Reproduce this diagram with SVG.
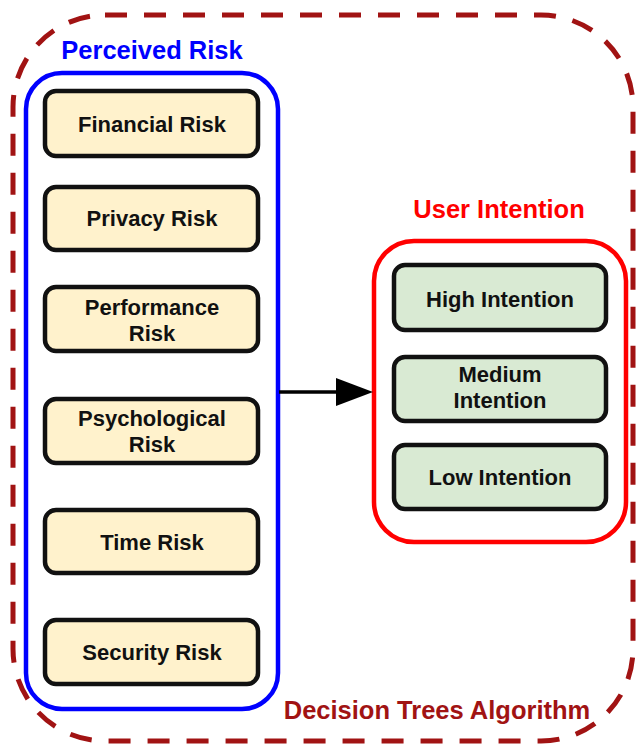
<svg xmlns="http://www.w3.org/2000/svg" width="637" height="745" viewBox="0 0 637 745">
  <style>
    .label { font-family: "Liberation Sans", Arial, sans-serif; font-weight: bold; text-anchor: middle; }
    .title { font-size: 25.5px; }
    .item { font-size: 22px; fill: #111111; }
    .riskBox { fill: #fff2cc; stroke: #111111; stroke-width: 4.5; }
    .intentBox { fill: #d9ead3; stroke: #111111; stroke-width: 4.5; }
  </style>
  <rect width="637" height="745" fill="#ffffff"/>

  <!-- algorithm boundary -->
  <g id="algorithm">
    <rect x="13" y="15" width="620" height="726" rx="92" ry="92" fill="none" stroke="#a11313" stroke-width="5" stroke-dasharray="22 17"/>
    <text class="label title" x="437" y="719" fill="#a11313">Decision Trees Algorithm</text>
  </g>

  <!-- perceived risk group -->
  <g id="perceived-risk">
    <rect x="26" y="73" width="252" height="636" rx="36" ry="36" fill="none" stroke="#0000ff" stroke-width="4.5"/>
    <text class="label title" x="152" y="59" fill="#0000ff">Perceived Risk</text>
  </g>
  <g id="financial-risk">
    <rect class="riskBox" x="45" y="91" width="213" height="65" rx="11"/>
    <text class="label item" x="152" y="132">Financial Risk</text>
  </g>
  <g id="privacy-risk">
    <rect class="riskBox" x="45" y="187" width="213" height="63" rx="11"/>
    <text class="label item" x="152" y="226">Privacy Risk</text>
  </g>
  <g id="performance-risk">
    <rect class="riskBox" x="45" y="287" width="213" height="64" rx="11"/>
    <text class="label item" x="152" y="315">Performance</text>
    <text class="label item" x="152" y="341">Risk</text>
  </g>
  <g id="psychological-risk">
    <rect class="riskBox" x="45" y="399" width="213" height="64" rx="11"/>
    <text class="label item" x="152" y="426">Psychological</text>
    <text class="label item" x="152" y="452">Risk</text>
  </g>
  <g id="time-risk">
    <rect class="riskBox" x="45" y="510" width="213" height="63" rx="11"/>
    <text class="label item" x="152" y="550">Time Risk</text>
  </g>
  <g id="security-risk">
    <rect class="riskBox" x="45" y="620" width="213" height="64" rx="11"/>
    <text class="label item" x="152" y="660">Security Risk</text>
  </g>

  <!-- user intention group -->
  <g id="user-intention">
    <rect x="374" y="241" width="252" height="301" rx="40" ry="40" fill="none" stroke="#ff0000" stroke-width="4.5"/>
    <text class="label title" x="499" y="218" fill="#ff0000">User Intention</text>
  </g>
  <g id="high-intention">
    <rect class="intentBox" x="394" y="265" width="212" height="65" rx="11"/>
    <text class="label item" x="500" y="307">High Intention</text>
  </g>
  <g id="medium-intention">
    <rect class="intentBox" x="394" y="357" width="212" height="64" rx="11"/>
    <text class="label item" x="500" y="382">Medium</text>
    <text class="label item" x="500" y="408">Intention</text>
  </g>
  <g id="low-intention">
    <rect class="intentBox" x="394" y="445" width="212" height="64" rx="11"/>
    <text class="label item" x="500" y="485">Low Intention</text>
  </g>

  <!-- connectors -->
  <g id="connectors">
    <line x1="279" y1="392" x2="340" y2="392" stroke="#000000" stroke-width="3.5"/>
    <path d="M336,378 L373,392 L336,406 Z" fill="#000000"/>
  </g>
</svg>
